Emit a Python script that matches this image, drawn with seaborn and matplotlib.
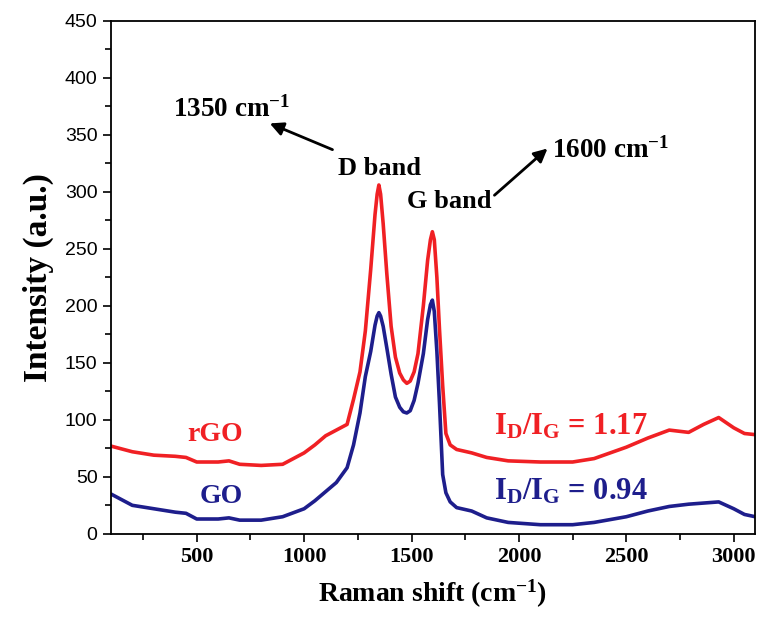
import pandas as pd
import numpy as np
import matplotlib
matplotlib.use('Agg')
import matplotlib.pyplot as plt
import matplotlib.ticker as ticker
import seaborn as sns

# %%
# valores lidos do espectro Raman

raman_shift = [100, 200, 300, 400, 450, 500, 600, 650, 700, 800, 900, 1000, 1050, 1100,
               1150, 1200, 1230, 1260, 1285, 1310, 1330, 1340, 1348, 1356, 1368, 1385,
               1405, 1425, 1445, 1462, 1478, 1494, 1512, 1530, 1555, 1575, 1588, 1597,
               1606, 1618, 1630, 1645, 1660, 1680, 1710, 1780, 1850, 1950, 2100, 2250,
               2350, 2500, 2600, 2700, 2790, 2860, 2930, 3000, 3050, 3100]

rgo_intensity = [77, 72, 69, 68, 67, 63, 63, 64, 61, 60, 61, 71, 78, 86,
                 91, 96, 118, 142, 178, 232, 280, 298, 306, 298, 272, 228,
                 182, 155, 141, 135, 132, 134, 142, 158, 200, 240, 258, 265,
                 258, 225, 180, 130, 88, 78, 74, 71, 67, 64, 63, 63,
                 66, 76, 84, 91, 89, 96, 102, 93, 88, 87]

go_intensity = [35, 25, 22, 19, 18, 13, 13, 14, 12, 12, 15, 22, 29, 37,
                45, 58, 78, 106, 138, 160, 183, 191, 194, 191, 182, 163,
                140, 120, 111, 107, 106, 108, 117, 132, 158, 188, 201, 205,
                195, 160, 115, 52, 36, 28, 23, 20, 14, 10, 8, 8,
                10, 15, 20, 24, 26, 27, 28, 22, 17, 15]

x_ticks = [500, 1000, 1500, 2000, 2500, 3000]
y_ticks = [0, 50, 100, 150, 200, 250, 300, 350, 400, 450]

# %%

df = pd.DataFrame({'shift': raman_shift, 'rGO': rgo_intensity, 'GO': go_intensity})
df_long = df.melt(id_vars='shift', var_name='amostra', value_name='intensidade')

sns.set_style('white')
plt.rcParams['font.family'] = ['Liberation Serif', 'DejaVu Serif']
plt.rcParams['mathtext.fontset'] = 'custom'
plt.rcParams['mathtext.rm'] = 'Liberation Serif:bold'
plt.rcParams['mathtext.it'] = 'Liberation Serif:bold'
plt.rcParams['mathtext.bf'] = 'Liberation Serif:bold'
plt.rcParams['text.color'] = 'black'
plt.rcParams['axes.labelcolor'] = 'black'
plt.rcParams['xtick.color'] = 'black'
plt.rcParams['ytick.color'] = 'black'

red = '#f02024'
navy = '#1e1e8c'

fig = plt.figure(figsize=(7.59, 6.31), dpi=100)
ax = fig.add_axes([0.146, 0.154, 0.849, 0.813])

sns.lineplot(data=df_long, x='shift', y='intensidade', hue='amostra',
             palette={'rGO': red, 'GO': navy}, estimator=None, linewidth=2.6,
             legend=False, ax=ax)

ax.set_xlim(100, 3100)
ax.set_ylim(0, 450)
ax.set_xticks(x_ticks)
ax.set_yticks(y_ticks)
ax.xaxis.set_minor_locator(ticker.MultipleLocator(250))
ax.yaxis.set_minor_locator(ticker.MultipleLocator(25))
ax.tick_params(axis='both', which='major', direction='out', length=6, width=1.2,
               bottom=True, left=True, top=False, right=False)
ax.tick_params(axis='both', which='minor', direction='out', length=4, width=1.2,
               bottom=True, left=True, top=False, right=False)

for lab in ax.get_xticklabels():
    lab.set_fontfamily('Liberation Serif')
    lab.set_fontweight('bold')
    lab.set_fontsize(16)
for lab in ax.get_yticklabels():
    lab.set_fontfamily('Liberation Sans')
    lab.set_fontsize(14)

for s in ax.spines.values():
    s.set_linewidth(1.3)
    s.set_color('black')

ax.set_xlabel('Raman shift (cm$^{-1}$)', fontsize=20, fontweight='bold', labelpad=8)
ax.set_ylabel('Intensity (a.u.)', fontsize=24, fontweight='bold', labelpad=8)

# anotações das bandas
ax.text(388, 366, '1350 cm$^{-1}$', fontsize=19.5, fontweight='bold', ha='left', va='baseline')
ax.text(1156, 315, 'D band', fontsize=19, fontweight='bold', ha='left', va='baseline')
ax.text(1481, 286, 'G band', fontsize=19, fontweight='bold', ha='left', va='baseline')
ax.text(2156, 330, '1600 cm$^{-1}$', fontsize=19.5, fontweight='bold', ha='left', va='baseline')

arrow = dict(arrowstyle='-|>', color='black', lw=2, mutation_scale=20, shrinkA=0, shrinkB=0)
ax.annotate('', xy=(840, 360), xytext=(1132, 337), arrowprops=arrow)
ax.annotate('', xy=(2133, 338), xytext=(1886, 297), arrowprops=arrow)

ax.text(458, 81, 'rGO', fontsize=20, fontweight='bold', color=red, va='baseline')
ax.text(514, 27, 'GO', fontsize=20, fontweight='bold', color=navy, va='baseline')
ax.text(1886, 87, 'I$_\\mathregular{D}$/I$_\\mathregular{G}$ = 1.17', fontsize=22,
        fontweight='bold', color=red, va='baseline')
ax.text(1886, 30, 'I$_\\mathregular{D}$/I$_\\mathregular{G}$ = 0.94', fontsize=22,
        fontweight='bold', color=navy, va='baseline')

plt.savefig('out.png', dpi=100)
